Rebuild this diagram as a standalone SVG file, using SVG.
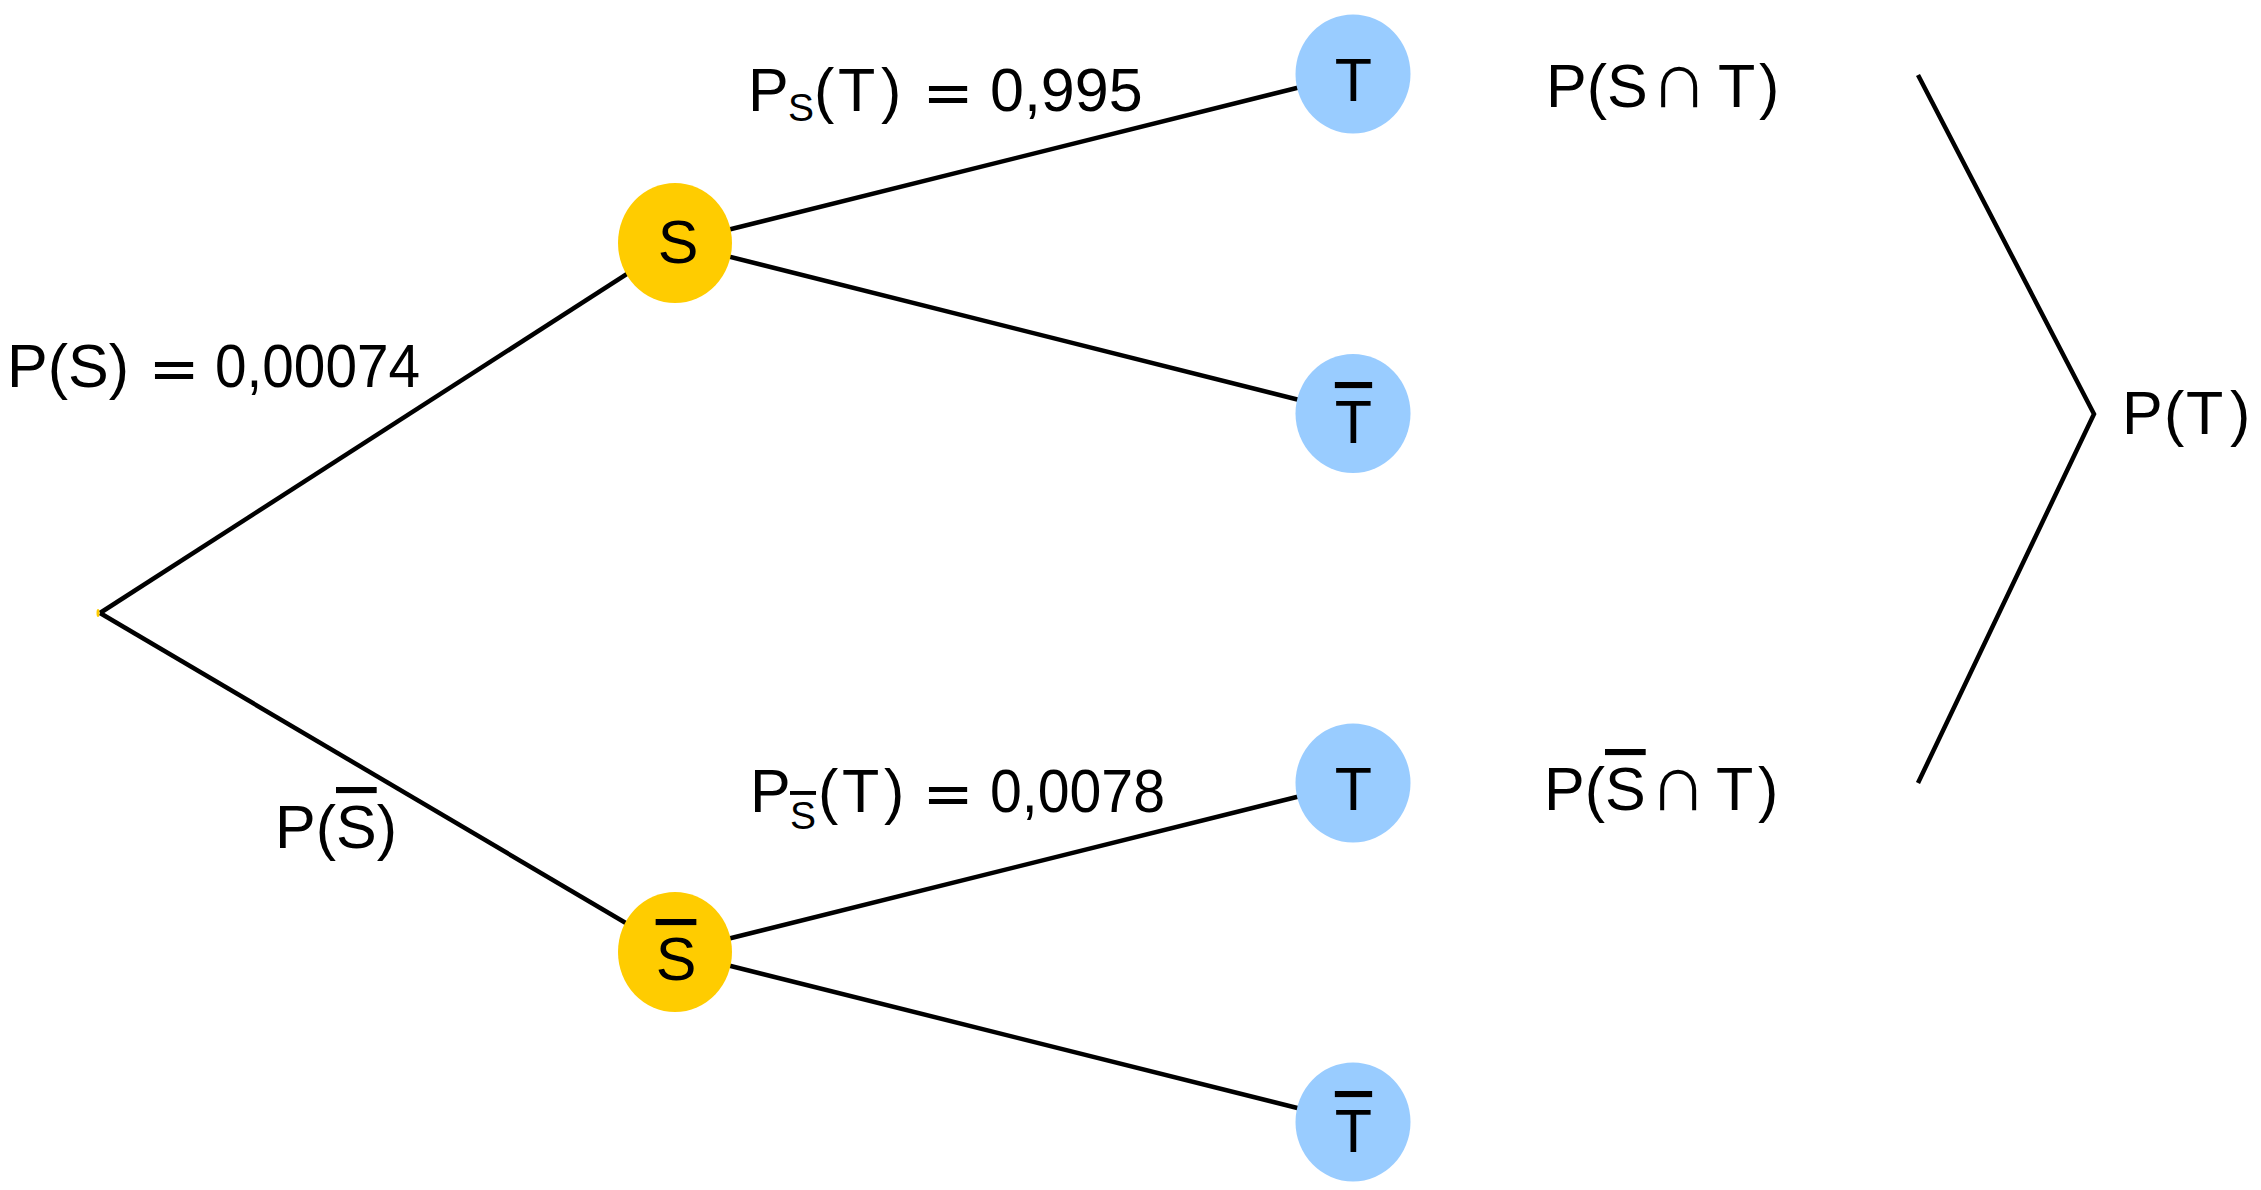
<svg xmlns="http://www.w3.org/2000/svg" width="2261" height="1190" viewBox="0 0 2261 1190">
<style>
.edge{stroke:#000;stroke-width:4.5;fill:none;stroke-linecap:butt}
.s{fill:#FFCC00}
.t{fill:#99CCFF}
text{font-family:"Liberation Sans",Arial,sans-serif;font-size:61px;fill:#000}
.lbl{text-anchor:middle}
.op{font-family:"DejaVu Sans",sans-serif}
.cap{font-family:"DejaVu Sans",sans-serif;font-size:80px;font-weight:200}
.sub{font-size:39px}
.ov{text-decoration:overline}
</style>
<rect width="2261" height="1190" fill="#fff"/>
<g id="connectors">
<line class="edge" x1="100" y1="613" x2="675" y2="243"/>
<line class="edge" x1="100" y1="613" x2="675" y2="952"/>
<line class="edge" x1="675" y1="243" x2="1353" y2="74"/>
<line class="edge" x1="675" y1="243" x2="1353" y2="413.5"/>
<line class="edge" x1="675" y1="952" x2="1353" y2="783"/>
<line class="edge" x1="675" y1="952" x2="1353" y2="1122"/>
<polyline class="edge" points="1918,75 2094,414 1918,783"/>
</g>
<g id="root"><ellipse class="s" cx="98" cy="613" rx="1.5" ry="4"/></g>
<g id="nodeS"><ellipse class="s" cx="675" cy="243" rx="57" ry="60"/><text class="lbl" x="678" y="263">S</text></g>
<g id="nodeSbar"><ellipse class="s" cx="675" cy="952" rx="57" ry="60"/><text class="lbl" x="676" y="980"><tspan class="ov">S</tspan></text></g>
<g id="nodeT1"><ellipse class="t" cx="1353" cy="74" rx="57.5" ry="59.5"/><text class="lbl" x="1353.5" y="101">T</text></g>
<g id="nodeTbar1"><ellipse class="t" cx="1353" cy="413.5" rx="57.5" ry="59.5"/><text class="lbl" x="1353.5" y="443"><tspan class="ov">T</tspan></text></g>
<g id="nodeT2"><ellipse class="t" cx="1353" cy="783" rx="57.5" ry="59.5"/><text class="lbl" x="1353.5" y="810">T</text></g>
<g id="nodeTbar2"><ellipse class="t" cx="1353" cy="1122" rx="57.5" ry="59.5"/><text class="lbl" x="1353.5" y="1152"><tspan class="ov">T</tspan></text></g>
<g id="labels">
<g id="labelPS">
<text x="7" y="387">P(S)<tspan class="op lbl" x="174" dy="2">=</tspan></text>
<text x="215" y="387" textLength="205" lengthAdjust="spacingAndGlyphs">0,00074</text>
</g>
<text id="labelPSbar" x="275" y="848">P(<tspan class="ov">S</tspan>)</text>
<text id="labelPST" x="748" y="111">P<tspan class="sub" x="788" dy="10">S</tspan><tspan x="814" dy="-10">(</tspan><tspan x="838">T</tspan><tspan x="881">)</tspan><tspan class="op lbl" x="948" dy="2">=</tspan><tspan x="990" dy="-2">0,995</tspan></text>
<g id="labelPSbarT">
<text x="750" y="812">P<tspan class="sub ov" x="790" dy="17">S</tspan><tspan x="818" dy="-17">(</tspan><tspan x="842">T</tspan><tspan x="884">)</tspan><tspan class="op lbl" x="948" dy="2">=</tspan></text>
<text x="990" y="812" textLength="175" lengthAdjust="spacingAndGlyphs">0,0078</text>
</g>
<text id="labelPSnT" x="1546" y="107">P(S<tspan class="cap lbl" x="1679">∩</tspan><tspan x="1718">T</tspan><tspan x="1759">)</tspan></text>
<text id="labelPSbarnT" x="1544" y="810">P(<tspan class="ov">S</tspan><tspan class="cap lbl" x="1678">∩</tspan><tspan x="1716">T</tspan><tspan x="1758">)</tspan></text>
<text id="labelPT" x="2122" y="434">P<tspan x="2164">(</tspan><tspan x="2186">T</tspan><tspan x="2230">)</tspan></text>
</g>
</svg>
